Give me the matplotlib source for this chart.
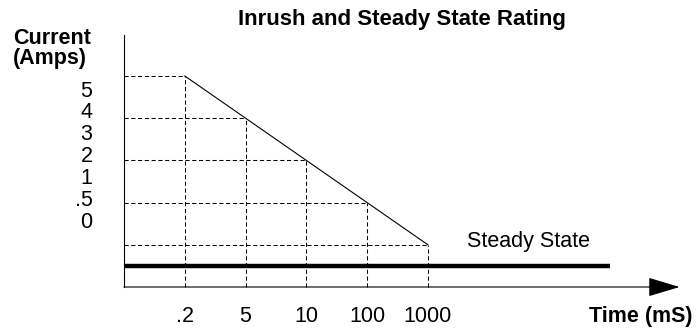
import matplotlib
matplotlib.use("Agg")
import matplotlib.pyplot as plt

plt.rcParams['font.family'] = ['Liberation Sans', 'DejaVu Sans']

# rating curve: time labels at evenly spaced positions, current levels
time_labels = [".2", "5", "10", "100", "1000"]
time_pos = [1, 2, 3, 4, 5]
rating_levels = [5, 4, 3, 2, 1]
steady_level = 0.5
steady_end = 8
current_labels = ["5", "4", "3", "2", "1", ".5", "0"]

fig = plt.figure(figsize=(6.99, 3.29), dpi=100)
ax = fig.add_axes([0, 0, 1, 1])
ax.set_xlim(-2.04, 9.46)
ax.set_ylim(-0.995, 6.80)
ax.axis('off')

dash = dict(color='black', lw=0.75, dashes=(4, 2.5))

# dashed guides from each rating point to both axes
for x, y in zip(time_pos, rating_levels):
    ax.plot([0, x], [y, y], **dash)
    ax.plot([x, x], [0, y], **dash)

# inrush rating line
ax.plot(time_pos, rating_levels, color='black', lw=0.8)

# steady state rating
ax.plot([0, steady_end], [steady_level, steady_level], color='black', lw=3.2,
        solid_capstyle='butt')
ax.text(5.64, 1.07, "Steady State", fontsize=15.5, ha='left', va='center')

# axes
ax.plot([0, 0], [0, 5.97], color='black', lw=0.8)
ax.annotate("", xy=(9.14, 0), xytext=(0, 0),
            arrowprops=dict(arrowstyle='-|>,head_length=2.0,head_width=0.6',
                            color='black', lw=0.8, shrinkA=0, shrinkB=0))

# tick labels
for x, lab in zip(time_pos, time_labels):
    ax.text(x, -0.71, lab, fontsize=15.5, ha='center', va='center')

for i, lab in enumerate(current_labels):
    ax.text(-0.52, 4.64 - i * 0.517, lab, fontsize=15.5, ha='right', va='center')

ax.text(9.36, -0.71, "Time (mS)", fontsize=15.5, fontweight='bold',
        ha='right', va='center')
ax.text(-1.826, 5.65, "Current\n(Amps)", fontsize=15.5, fontweight='bold',
        ha='left', va='center', linespacing=0.95)
ax.text(4.57, 6.33, "Inrush and Steady State Rating", fontsize=16,
        fontweight='bold', ha='center', va='center')

fig.savefig("out.png", dpi=100)
